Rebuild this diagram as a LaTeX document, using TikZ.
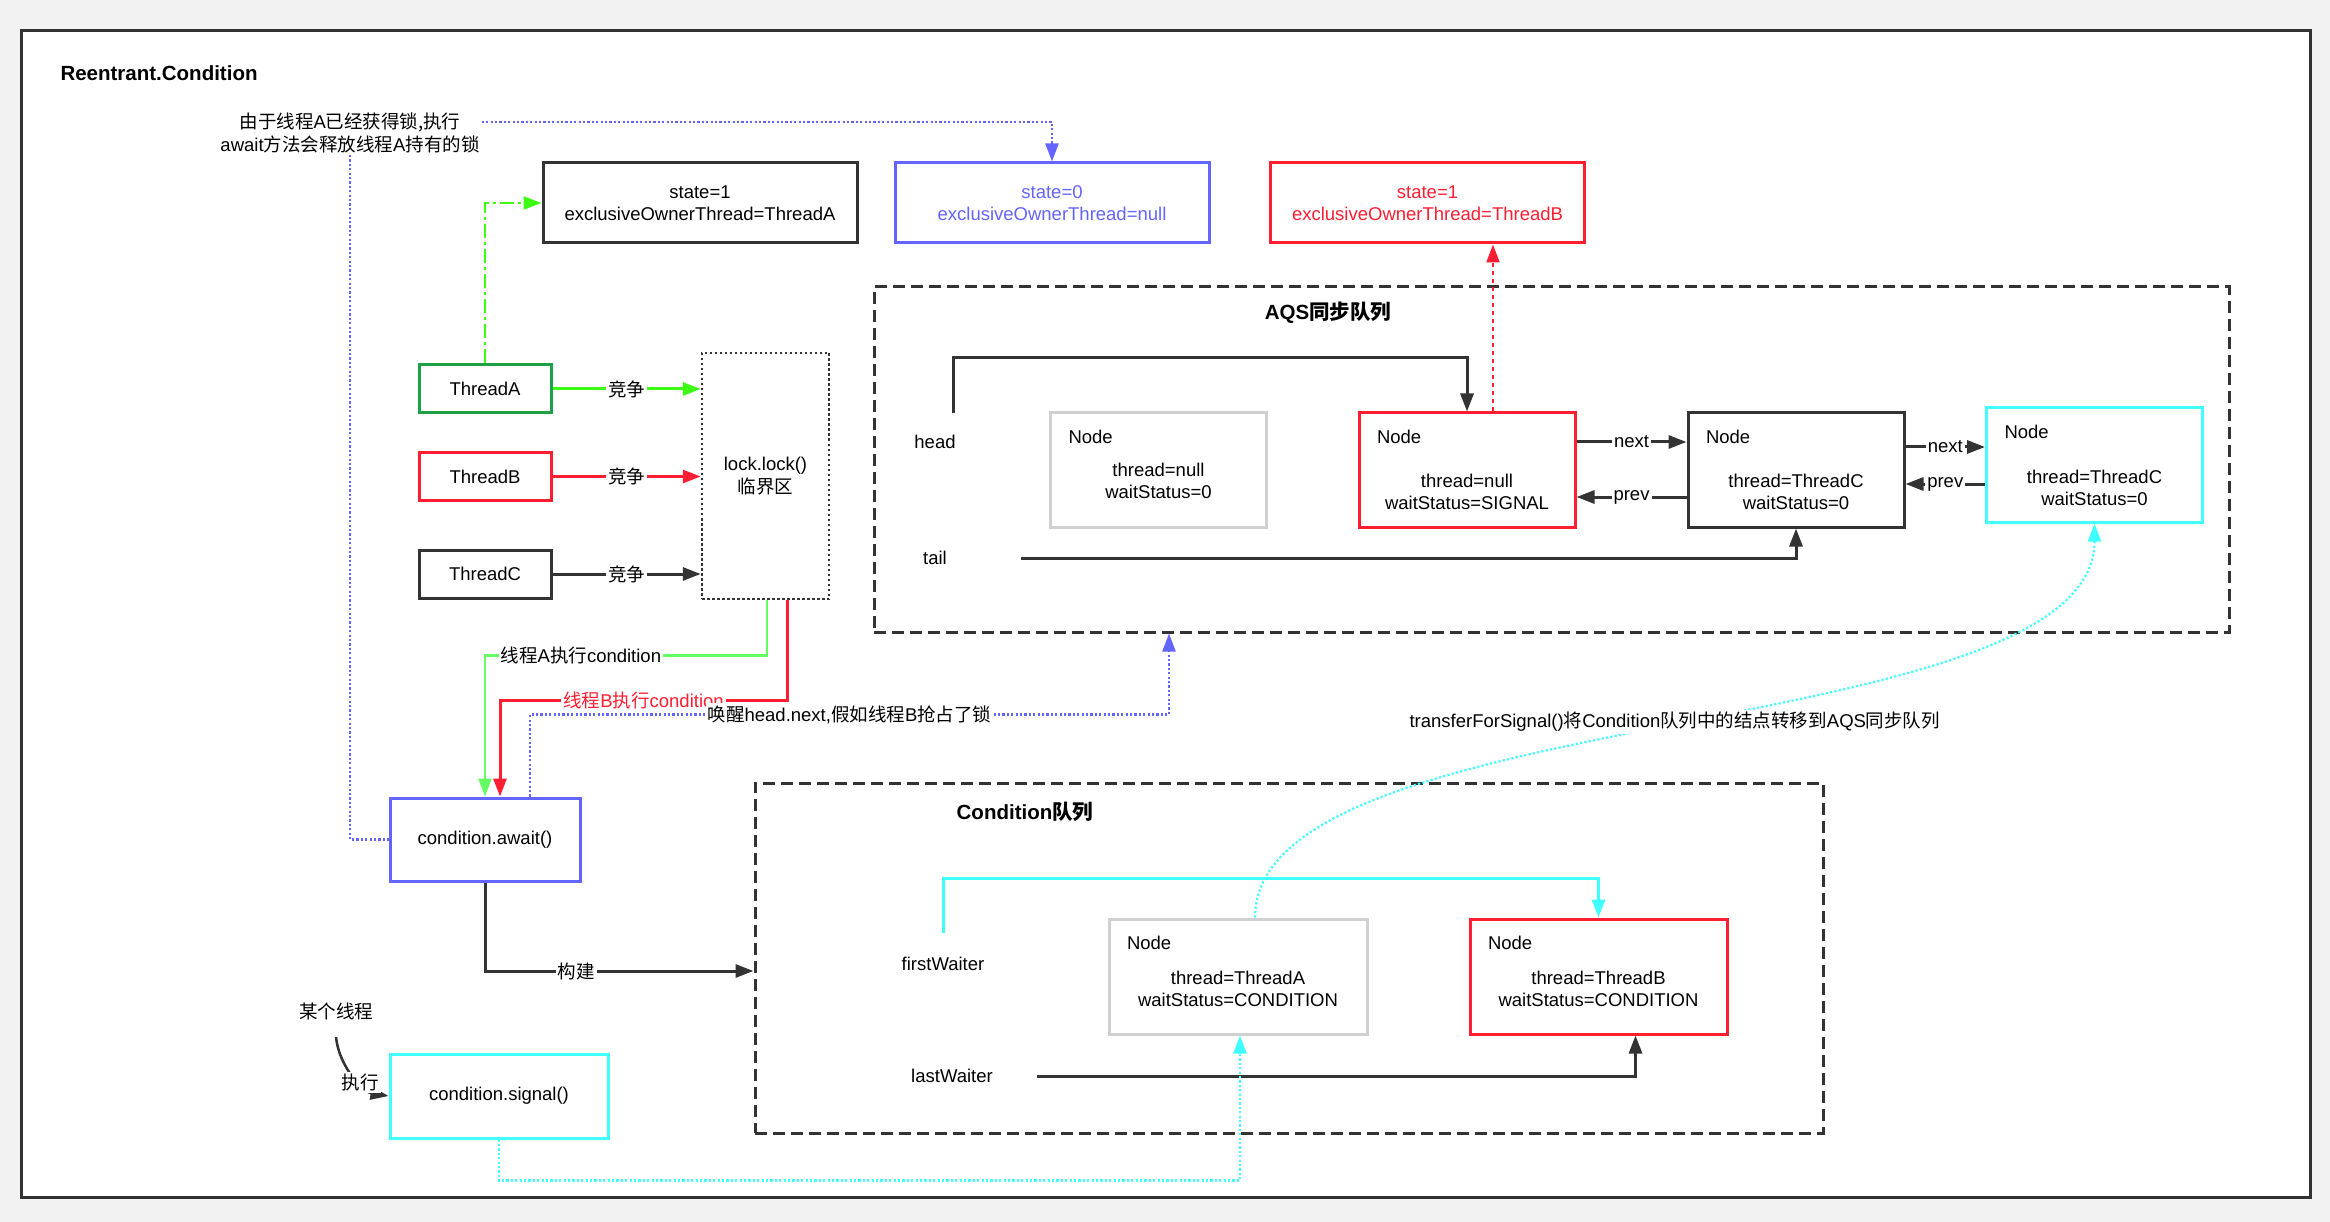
\documentclass[tikz,border=0pt]{standalone}
\usepackage{fontspec}
\setmainfont{Liberation Sans}
\newfontfamily\zh{Noto Sans CJK SC}
\usetikzlibrary{arrows.meta,calc}

\definecolor{darkline}{RGB}{51,51,51}
\definecolor{pagegray}{RGB}{242,242,242}
\definecolor{lockgreen}{RGB}{30,160,70}
\definecolor{brightgreen}{RGB}{60,255,20}
\definecolor{softgreen}{RGB}{100,255,100}
\definecolor{lockred}{RGB}{255,30,50}
\definecolor{waitblue}{RGB}{100,100,255}
\definecolor{signalcyan}{RGB}{64,255,255}
\definecolor{idlegray}{RGB}{208,208,208}

\begin{document}
\begin{tikzpicture}[
    x=1pt, y=-1pt,
    font=\fontsize{18.5pt}{22.5pt}\selectfont,
    box/.style={draw=darkline, line width=3pt, minimum width=314pt, minimum height=80pt, align=center, inner sep=0pt},
    thread/.style={box, minimum width=132pt, minimum height=48pt},
    queue/.style={draw=darkline, line width=3pt, dash pattern=on 12pt off 6pt, inner sep=0pt},
    qnode/.style={box, minimum width=216pt, minimum height=114pt, label={[tag]north west:Node}},
    tag/.style={anchor=west, xshift=16pt, yshift=-25pt},
    body/.style={align=center, inner sep=0pt},
    heading/.style={font=\fontsize{20.5pt}{24pt}\selectfont\bfseries},
    lbl/.style={fill=white, inner sep=2pt},
    arr/.style={draw=darkline, line width=3pt, -{Triangle[length=18pt,width=13pt]}},
    dotline/.style={line width=2.2pt, dash pattern=on 2.2pt off 2.2pt}
]

% page and outer frame
\useasboundingbox (0,0) rectangle (2330,1222);
\fill[pagegray] (0,0) rectangle (2330,1222);
\draw[darkline, line width=3pt, fill=white] (21,31) rectangle (2310,1197);

\node[heading, anchor=west] (title) at (57,73) {Reentrant.Condition};
\node[align=center, inner sep=2pt] (release) at (350,133) {{\zh 由于线程}A{\zh 已经获得锁,执行}\\await{\zh 方法会释放线程}A{\zh 持有的锁}};

% lock state
\node[box] (ownerA) at (700,203) {state=1\\exclusiveOwnerThread=ThreadA};
\node[box, draw=waitblue, text=waitblue] (ownerNull) at (1052,203) {state=0\\exclusiveOwnerThread=null};
\node[box, draw=lockred, text=lockred] (ownerB) at (1427.5,203) {state=1\\exclusiveOwnerThread=ThreadB};

% threads and critical section
\node[thread, draw=lockgreen] (threadA) at (485,389) {ThreadA};
\node[thread, draw=lockred] (threadB) at (485,476.5) {ThreadB};
\node[thread] (threadC) at (485,574) {ThreadC};
\node[box, line width=2.5pt, dash pattern=on 2.5pt off 2.5pt, minimum width=127pt, minimum height=246pt] (lock) at (765.5,476) {lock.lock()\\{\zh 临界区}};

\node[box, draw=waitblue, minimum width=190pt, minimum height=83pt] (await) at (485,839.5) {condition.await()};
\node[box, draw=signalcyan, minimum width=218pt, minimum height=84pt] (signal) at (499,1096) {condition.signal()};
\node (someone) at (336,1011) {\zh 某个线程};

% AQS queue
\node[queue, minimum width=1355pt, minimum height=345pt] (aqs) at (1551.5,459.5) {};
\node[heading] (aqstitle) at (1328,313) {AQS{\zh 同步队列}};
\node (head) at (935,442) {head};
\node (tail) at (935,558) {tail};
\coordinate (headptr) at (953,413);
\coordinate (tailptr) at (1021,558);

\node[qnode, draw=idlegray] (q0) at (1158.5,470) {};
\node[body] (q0text) at ($(q0)+(0,11)$) {thread=null\\waitStatus=0};
\node[qnode, draw=lockred] (q1) at (1467,470) {};
\node[body] (q1text) at ($(q1)+(0,22)$) {thread=null\\waitStatus=SIGNAL};
\node[qnode] (q2) at (1796,470) {};
\node[body] (q2text) at ($(q2)+(0,22)$) {thread=ThreadC\\waitStatus=0};
\node[qnode, draw=signalcyan] (q3) at (2094.5,465) {};
\node[body] (q3text) at ($(q3)+(0,23)$) {thread=ThreadC\\waitStatus=0};

% Condition queue
\node[queue, minimum width=1068pt, minimum height=350pt] (condq) at (1289,958) {};
\node[heading] (condtitle) at (1025,812) {Condition{\zh 队列}};
\node (first) at (943,964) {firstWaiter};
\node (last) at (952,1076) {lastWaiter};
\coordinate (firstptr) at (943,933);
\coordinate (lastptr) at (1037,1076);

\node[qnode, draw=idlegray, minimum width=258pt, minimum height=115pt] (cA) at (1238,976.5) {};
\node[body] (cAtext) at ($(cA)+(0,12.5)$) {thread=ThreadA\\waitStatus=CONDITION};
\node[qnode, draw=lockred, minimum width=257pt, minimum height=115pt] (cB) at (1598.5,976.5) {};
\node[body] (cBtext) at ($(cB)+(0,12.5)$) {thread=ThreadB\\waitStatus=CONDITION};

% competing for the lock
\draw[arr, draw=brightgreen] (threadA) -- node[lbl] {\zh 竞争} (threadA -| lock.west);
\draw[arr, draw=lockred] (threadB) -- node[lbl] {\zh 竞争} (threadB -| lock.west);
\draw[arr] (threadC) -- node[lbl] {\zh 竞争} (threadC -| lock.west);
\draw[arr, draw=brightgreen, line width=2.5pt, dash pattern=on 14pt off 4pt on 3pt off 4pt] (threadA.north) |- (ownerA.west);

% await and release
\draw[arr, draw=softgreen, line width=2.5pt] ([xshift=1.5pt]lock.south) -- ++(0,55) -| node[lbl, pos=0.33] {{\zh 线程}A{\zh 执行}condition} (await.north);
\draw[arr, draw=lockred] ([xshift=21.5pt]lock.south) -- ++(0,100) -| node[lbl, pos=0.25, text=lockred] {{\zh 线程}B{\zh 执行}condition} ([xshift=15pt]await.north);
\draw[arr, draw=waitblue, dotline] ([xshift=45pt]await.north) -- ++(0,-82) -| node[lbl, pos=0.25] {{\zh 唤醒}head.next,{\zh 假如线程}B{\zh 抢占了锁}} ([xshift=-382.5pt]aqs.south);
\draw[arr, draw=waitblue, dotline] ([yshift=11pt]release.east) -| (ownerNull.north);
\draw[draw=waitblue, dotline] (release.south) |- (await.west);
\draw[arr, draw=lockred, line width=2.2pt, dash pattern=on 4pt off 4pt] ([xshift=26pt]q1.north) -- ([xshift=26pt]q1.north |- ownerB.south);

% AQS links
\draw[arr] (headptr) -- ++(0,-55) -| (q1.north);
\draw[arr] (tailptr) -| (q2.south);
\draw[arr] ([yshift=28pt]q1.east) -- node[lbl] {next} ([yshift=28pt]q1.east -| q2.west);
\draw[arr] ([yshift=-27pt]q2.west) -- node[lbl] {prev} ([yshift=-27pt]q2.west -| q1.east);
\draw[arr] ([yshift=23pt]q2.east) -- node[lbl] {next} ([yshift=23pt]q2.east -| q3.west);
\draw[arr] ([yshift=-19pt]q3.west) -- node[lbl] {prev} ([yshift=-19pt]q3.west -| q2.east);

% Condition links
\draw[arr] (await.south) |- node[lbl, pos=0.67] {\zh 构建} ([yshift=-13pt]condq.west);
\draw[arr, draw=signalcyan] (firstptr) -- ++(0,-55) -| (cB.north);
\draw[arr] (lastptr) -| ([xshift=37pt]cB.south);

% signal
\draw[arr, line width=2.5pt] ([yshift=-14pt]someone.south) .. controls +(3,30) and +(-25,-4) .. node[lbl, pos=0.6] {\zh 执行} (signal.west);
\draw[arr, draw=signalcyan, dotline] (signal.south) -- ++(0,41) -| ([xshift=2pt]cA.south);
\draw[arr, draw=signalcyan, dotline] ([xshift=17pt]cA.north) .. controls +(0,-219) and +(0,223) .. node[lbl] {transferForSignal(){\zh 将}Condition{\zh 队列中的结点转移到}AQS{\zh 同步队列}} (q3.south);

\end{tikzpicture}
\end{document}
